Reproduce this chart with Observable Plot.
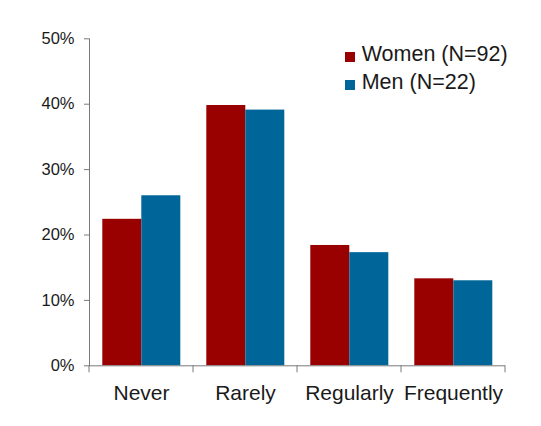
<!DOCTYPE html>
<html><head>
<meta charset="utf-8">
<script src="https://cdn.jsdelivr.net/npm/d3@7"></script>
<script src="https://cdn.jsdelivr.net/npm/@observablehq/plot@0.6"></script>
<style>
body{margin:0;background:#fff;}
#wrap{position:relative;width:541px;height:426px;font-family:"Liberation Sans",Arial,sans-serif;}
.sw{position:absolute;width:10px;height:10px;}
.lt{position:absolute;font-size:21.5px;line-height:21.5px;color:#1a1a1a;white-space:nowrap;}
</style></head><body><div id="wrap"></div>
<script>
const categories = ["Never","Rarely","Regularly","Frequently"];
const groups = ["Women","Men"];
const groupLabels = ["Women (N=92)","Men (N=22)"];
const women = [22.4,39.8,18.4,13.3];
const men = [26.0,39.1,17.3,13.0];
const yTicks = [0,10,20,30,40,50];
const colors = ["#990000","#006699"];

const data = categories.flatMap((c,i)=>[
  {cat:c, group:"Women", value:women[i]},
  {cat:c, group:"Men", value:men[i]}
]);

const axisColor = "#7a7a7a";
const plot = Plot.plot({
  width:541, height:426,
  marginLeft:87.7, marginRight:34.3, marginTop:38.3, marginBottom:60.7,
  style:{fontFamily:"'Liberation Sans', Arial, sans-serif", background:"#fff", color:"#1a1a1a", overflow:"visible"},
  fx:{domain:categories, padding:0, label:null, axis:null},
  x:{domain:groups, paddingInner:0, paddingOuter:0.31, axis:null},
  y:{domain:[0,50], axis:null},
  color:{domain:groups, range:colors},
  marks:[
    Plot.barY(data,{fx:"cat", x:"group", y:"value", fill:"group"}),
    Plot.ruleY([0],{stroke:axisColor}),
    Plot.axisY({ticks:yTicks, tickFormat:d=>d+"%", tickSize:5, tickPadding:10, fontSize:16.5, stroke:axisColor, fill:"#1a1a1a", facetAnchor:"left", label:null}),
    Plot.frame({anchor:"left", stroke:axisColor, facetAnchor:"left"}),
    Plot.axisFx({anchor:"bottom", tickSize:0, tickPadding:19, fontSize:21, fill:"#1a1a1a", label:null})
  ]
});

// boundary ticks between category groups, from the fx scale
const fxs = plot.scale("fx");
const ys = plot.scale("y");
const y0 = ys.apply ? ys.apply(0) : 365.3;
const edges = categories.map(c => fxs.apply(c));
edges.push(fxs.apply(categories[categories.length-1]) + fxs.bandwidth);
const g = d3.select(plot).append("g").attr("stroke", axisColor);
edges.forEach(x => g.append("line").attr("x1",x).attr("x2",x).attr("y1",y0).attr("y2",y0+7));

const wrap = document.getElementById("wrap");
wrap.appendChild(plot);

// legend
const legTops = [52, 80];
groupLabels.forEach((lab,i)=>{
  const s = document.createElement("div");
  s.className = "sw";
  s.style.left = "345px"; s.style.top = legTops[i]+"px"; s.style.background = colors[i];
  wrap.appendChild(s);
  const t = document.createElement("div");
  t.className = "lt";
  t.style.left = "361.7px"; t.style.top = (legTops[i]-8.2)+"px";
  t.textContent = lab;
  wrap.appendChild(t);
});
</script>
</body></html>
